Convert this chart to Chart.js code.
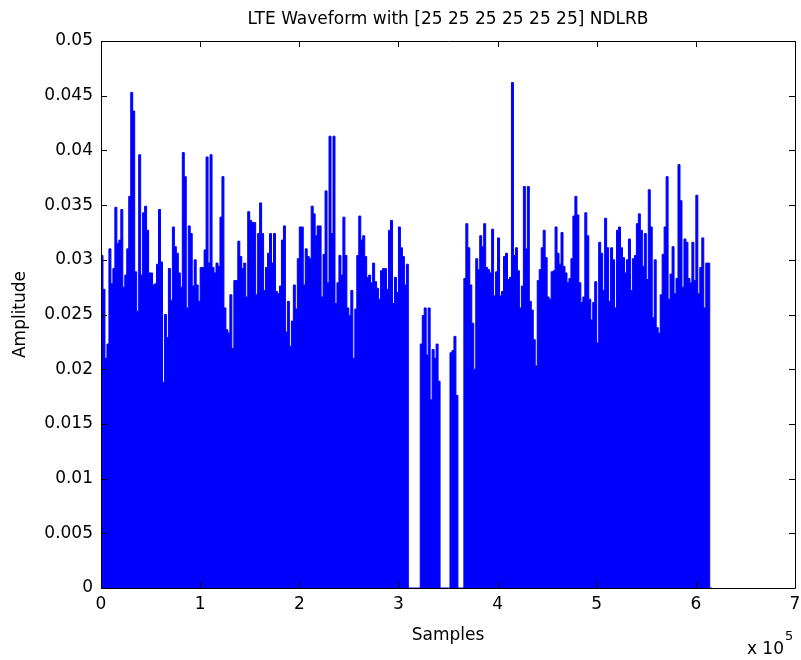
<!DOCTYPE html>
<html>
<head>
<meta charset="utf-8">
<title>LTE Waveform</title>
<script src="https://cdn.jsdelivr.net/npm/chart.js@4.4.1/dist/chart.umd.min.js"></script>
<style>
  html, body { margin: 0; padding: 0; background: #fff; }
  #wrap { width: 801px; height: 660px; }
</style>
</head>
<body>
<div id="wrap"><canvas id="waveChart" width="801" height="660"></canvas></div>
<script>
// judul dan label sumbu
const chartTitle = 'LTE Waveform with [25 25 25 25 25 25] NDLRB';
const xTitle = 'Samples';
const yTitle = 'Amplitude';

// lebar satu bin (jumlah sampel), amplitudo puncak tiap bin
const binWidth = 2000;
const peakAmp = [
  // 0 .. 1.04e5
  0.0288, 0.0304, 0.0273, 0.021, 0.0223, 0.031, 0.0278, 0.0292, 0.0348, 0.0315,
  0.0318, 0.0346, 0.0275, 0.0286, 0.031, 0.0358, 0.0453, 0.0436, 0.0289, 0.0253,
  0.0396, 0.0286, 0.0343, 0.0349, 0.0327, 0.0288, 0.0288, 0.0277, 0.0278, 0.0296,
  0.0346, 0.0298, 0.0188, 0.025, 0.0229, 0.0292, 0.0263, 0.033, 0.0312, 0.0306,
  0.0288, 0.0275, 0.0398, 0.0376, 0.0256, 0.0331, 0.0324, 0.0276, 0.030, 0.0277,
  0.0262, 0.0293,
  // 1.04e5 .. 2.04e5
  0.0293, 0.0309, 0.0394, 0.0297, 0.0396, 0.0293, 0.0288, 0.0297, 0.0294, 0.0339,
  0.0376, 0.0256, 0.0236, 0.0233, 0.0268, 0.0219, 0.0281, 0.0281, 0.0317, 0.0303,
  0.0292, 0.0297, 0.0266, 0.0344, 0.0336, 0.0334, 0.0334, 0.0268, 0.0324, 0.0352,
  0.0324, 0.0272, 0.0293, 0.0306, 0.0324, 0.0297, 0.0324, 0.0271, 0.0269, 0.0276,
  0.0318, 0.0331, 0.0234, 0.0262, 0.0221, 0.0244, 0.0277, 0.0255, 0.0301, 0.033,
  // 2.04e5 .. 3.06e5
  0.033, 0.0277, 0.031, 0.0303, 0.0301, 0.0349, 0.0342, 0.0322, 0.0331, 0.0331,
  0.0266, 0.0305, 0.0363, 0.0279, 0.0413, 0.0324, 0.0413, 0.026, 0.0279, 0.0304,
  0.0286, 0.0339, 0.0304, 0.0256, 0.0249, 0.0272, 0.021, 0.0255, 0.0304, 0.034,
  0.0318, 0.0322, 0.0303, 0.0284, 0.0286, 0.0279, 0.0297, 0.028, 0.0274, 0.0264,
  0.029, 0.0292, 0.0292, 0.0273, 0.0327, 0.0336, 0.026, 0.0284, 0.027, 0.033,
  0.0311,
  // 3.06e5 .. 4.06e5 (ada celah kosong)
  0.0303, 0.0277, 0.0296,
  0, 0, 0, 0, 0, 0,
  0.0223, 0.0249, 0.0256, 0.0213, 0.0256, 0.0172, 0.0218, 0.021, 0.0223, 0.0189,
  0, 0, 0, 0, 0,
  0.0215, 0.0217, 0.023, 0.0176,
  0, 0, 0,
  0.0283, 0.0333, 0.0311, 0.0277, 0.0242, 0.02, 0.0301, 0.0291, 0.0322, 0.0312,
  0.0333, 0.0293, 0.0291, 0.0288, 0.0328, 0.0267, 0.0289, 0.032, 0.0267,
  // 4.06e5 .. 5.06e5
  0.0271, 0.0303, 0.0306, 0.0282, 0.0284, 0.0462, 0.0304, 0.0311, 0.029, 0.0256,
  0.0276, 0.0367, 0.031, 0.0367, 0.0262, 0.0254, 0.0227, 0.0203, 0.0281, 0.0291,
  0.0311, 0.0327, 0.0302, 0.0266, 0.0264, 0.0289, 0.029, 0.033, 0.0306, 0.0296,
  0.0325, 0.0294, 0.0288, 0.0279, 0.0283, 0.0301, 0.034, 0.0358, 0.0341, 0.0279,
  0.0261, 0.0266, 0.0343, 0.0322, 0.0264, 0.0245, 0.0261, 0.028, 0.0224, 0.0316,
  // 5.06e5 .. akhir
  0.0306, 0.0272, 0.0338, 0.0311, 0.0262, 0.0311, 0.030, 0.0256, 0.0327, 0.033,
  0.0311, 0.0302, 0.0288, 0.030, 0.0319, 0.0272, 0.0301, 0.0304, 0.0333, 0.0342,
  0.0327, 0.0294, 0.0324, 0.0282, 0.0364, 0.033, 0.0247, 0.030, 0.0238, 0.0233,
  0.0268, 0.0305, 0.033, 0.0376, 0.0264, 0.0287, 0.0312, 0.0269, 0.0283, 0.0387,
  0.0354, 0.0275, 0.0319, 0.0316, 0.0283, 0.0279, 0.0316, 0.0281, 0.0359, 0.0269,
  0.0293, 0.032, 0.0256, 0.0297, 0.0297,
  0
];

// tick sumbu
const xTickValues = [0, 1, 2, 3, 4, 5, 6, 7];   // dalam satuan 1e5 sampel
const yTickValues = [0, 0.005, 0.01, 0.015, 0.02, 0.025, 0.03, 0.035, 0.04, 0.045, 0.05];
const xExponent = '5';

const FONT = 'DejaVu Sans';

// titik data: posisi sampel = indeks bin * lebar bin
const wavePoints = peakAmp.map((v, i) => ({ x: i * binWidth, y: v }));

// kotak sumbu ala MATLAB + tick ke dalam + faktor skala "x 10^5"
const matlabAxes = {
    id: 'matlabAxes',
    afterDraw(chart) {
        const ctx = chart.ctx;
        const a = chart.chartArea;
        const xs = chart.scales.x;
        const ys = chart.scales.y;
        const tick = 6;
        ctx.save();
        ctx.strokeStyle = '#000';
        ctx.lineWidth = 1;
        ctx.beginPath();
        ctx.rect(Math.round(a.left) + 0.5, Math.round(a.top) + 0.5,
                 Math.round(a.right - a.left), Math.round(a.bottom - a.top));
        yTickValues.forEach(v => {
            const y = Math.round(ys.getPixelForValue(v)) + 0.5;
            ctx.moveTo(a.left, y); ctx.lineTo(a.left + tick, y);
            ctx.moveTo(a.right, y); ctx.lineTo(a.right - tick, y);
        });
        xTickValues.forEach(v => {
            const x = Math.round(xs.getPixelForValue(v * 1e5)) + 0.5;
            ctx.moveTo(x, a.bottom); ctx.lineTo(x, a.bottom - tick);
            ctx.moveTo(x, a.top); ctx.lineTo(x, a.top + tick);
        });
        ctx.stroke();

        // faktor pengali di pojok kanan bawah
        ctx.fillStyle = '#000';
        ctx.textBaseline = 'alphabetic';
        ctx.textAlign = 'right';
        ctx.font = '17px "' + FONT + '"';
        const baseX = a.right - 11;
        ctx.fillText('x 10', baseX, 654);
        ctx.textAlign = 'left';
        ctx.font = '13px "' + FONT + '"';
        ctx.fillText(xExponent, baseX + 1, 640);
        ctx.restore();
    }
};

const ctx = document.getElementById('waveChart').getContext('2d');
const waveChart = new Chart(ctx, {
    type: 'line',
    data: {
        datasets: [{
            data: wavePoints,
            borderColor: '#0000ff',
            backgroundColor: '#0000ff',
            borderWidth: 1,
            pointRadius: 0,
            stepped: 'after',
            fill: 'origin'
        }]
    },
    plugins: [matlabAxes],
    options: {
        responsive: false,
        animation: false,
        devicePixelRatio: 1,
        layout: { padding: { left: 0, right: 6, top: 0, bottom: 0 } },
        plugins: {
            legend: { display: false },
            tooltip: { enabled: false },
            title: {
                display: true,
                text: chartTitle,
                fullSize: false,
                color: '#000',
                font: { family: FONT, size: 17, weight: 'normal' },
                padding: { top: 9, bottom: 11.6 }
            }
        },
        scales: {
            x: {
                type: 'linear',
                min: 0,
                max: 700000,
                afterBuildTicks: s => { s.ticks = xTickValues.map(v => ({ value: v * 1e5 })); },
                afterFit: s => { s.height = 72; s.paddingLeft = 0; s.paddingRight = 0; },
                grid: { display: false, drawTicks: false },
                border: { display: false },
                ticks: {
                    color: '#000',
                    padding: 6,
                    maxRotation: 0,
                    autoSkip: false,
                    font: { family: FONT, size: 17 },
                    callback: v => String(v / 1e5)
                },
                title: {
                    display: true,
                    text: xTitle,
                    color: '#000',
                    font: { family: FONT, size: 17 },
                    padding: { top: 0, bottom: 14 }
                }
            },
            y: {
                min: 0,
                max: 0.05,
                afterBuildTicks: s => { s.ticks = yTickValues.map(v => ({ value: v })); },
                afterFit: s => { s.width = 101; s.paddingTop = 0; s.paddingBottom = 0; },
                grid: { display: false, drawTicks: false },
                border: { display: false },
                ticks: {
                    color: '#000',
                    padding: 8,
                    autoSkip: false,
                    font: { family: FONT, size: 17 },
                    callback: v => String(parseFloat(v.toFixed(3)))
                },
                title: {
                    display: true,
                    text: yTitle,
                    color: '#000',
                    font: { family: FONT, size: 17 },
                    padding: { top: 10, bottom: 0 }
                }
            }
        }
    }
});
</script>
</body>
</html>
